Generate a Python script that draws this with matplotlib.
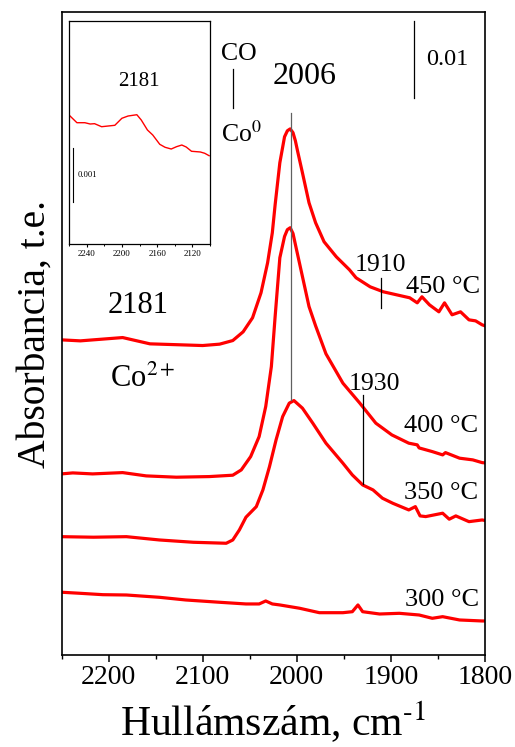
import matplotlib
matplotlib.use("Agg")
import matplotlib.pyplot as plt
from matplotlib.ticker import MultipleLocator, NullLocator
import numpy as np

plt.rcParams['font.family'] = ['Liberation Serif', 'DejaVu Serif']
plt.rcParams['mathtext.fontset'] = 'stix'

# Spectra: wavenumber (cm-1) and absorbance (mAbs) before vertical stacking
wn_300 = [2250, 2230, 2206, 2181, 2146, 2118, 2082, 2054, 2040, 2033, 2026, 2018, 1997, 1976,
          1951, 1941, 1935, 1930, 1912, 1891, 1870, 1856, 1845, 1827, 1803, 1800]
abs_300 = [4.19, 4.05, 3.87, 3.83, 3.53, 3.18, 2.88, 2.66, 2.66, 3.05, 2.66, 2.53, 2.10, 1.52,
           1.52, 1.65, 2.53, 1.65, 1.35, 1.44, 1.22, 0.79, 1.00, 0.57, 0.44, 0.44]

wn_350 = [2250, 2216, 2181, 2146, 2110, 2075, 2068, 2061, 2054, 2043, 2036, 2029, 2022, 2015,
          2008, 2003, 1994, 1983, 1969, 1951, 1941, 1930, 1919, 1909, 1898, 1881, 1874, 1869,
          1863, 1845, 1838, 1831, 1817, 1803, 1800]
abs_350 = [1.44, 1.37, 1.44, 1.01, 0.71, 0.58, 1.01, 2.32, 3.98, 5.36, 7.54, 10.58, 14.07, 17.11,
           18.86, 19.20, 18.21, 16.25, 13.64, 11.03, 9.50, 8.19, 7.54, 6.46, 5.80, 4.93, 5.36, 4.15,
           4.06, 4.50, 3.72, 4.15, 3.40, 3.62, 3.55]

wn_400 = [2250, 2238, 2217, 2185, 2160, 2128, 2093, 2068, 2059, 2049, 2040, 2033, 2027, 2023,
          2018, 2013, 2010, 2007, 2004, 2001, 1994, 1987, 1980, 1969, 1951, 1933, 1916, 1899,
          1881, 1872, 1870, 1856, 1845, 1842, 1827, 1813, 1803, 1800]
abs_400 = [0.63, 0.76, 0.63, 0.80, 0.37, 0.20, 0.28, 0.46, 1.15, 2.89, 5.50, 9.42, 14.64, 21.17,
           28.83, 31.61, 32.50, 32.75, 32.00, 30.30, 26.39, 22.47, 19.95, 16.30, 12.47, 9.86, 7.25, 5.72,
           4.64, 4.42, 4.02, 3.54, 3.11, 3.41, 2.68, 2.46, 2.10, 2.07]

wn_450 = [2250, 2230, 2185, 2156, 2100, 2082, 2068, 2057, 2047, 2038, 2031, 2026, 2023, 2018,
          2013, 2010, 2007, 2004, 2001.5, 1999, 1994, 1987, 1980, 1971, 1958, 1944, 1937, 1922,
          1908, 1894, 1880, 1872, 1867, 1859, 1849, 1843, 1835, 1826, 1817, 1810, 1803, 1800]
abs_450 = [2.12, 1.99, 2.42, 1.60, 1.38, 1.56, 2.03, 3.17, 5.00, 8.26, 12.18, 16.09, 19.75, 25.23,
           28.62, 29.40, 29.65, 29.15, 28.10, 26.67, 23.93, 20.01, 17.40, 14.92, 12.96, 11.26, 10.22, 9.04,
           8.39, 8.00, 7.61, 6.95, 7.74, 6.69, 5.78, 6.95, 5.39, 5.78, 4.73, 4.60, 4.08, 3.95]

temperatures = ['300 °C', '350 °C', '400 °C', '450 °C']
offsets = [4.0, 14.0, 23.0, 39.0]

# Enlarged 2181 cm-1 region of the 450 °C spectrum (mAbs)
wn_zoom = [2260, 2251, 2242, 2236, 2231, 2223, 2208, 2200, 2193, 2183, 2178, 2171, 2165, 2157,
           2151, 2144, 2138, 2132, 2127, 2121, 2111, 2106, 2101]
abs_zoom = [2.389, 2.246, 2.246, 2.222, 2.228, 2.172, 2.198, 2.328, 2.370, 2.394, 2.296, 2.111,
            2.019, 1.846, 1.791, 1.759, 1.802, 1.833, 1.796, 1.717, 1.704, 1.680, 1.635]

xticks_main = [2200, 2100, 2000, 1900, 1800]
xticks_zoom = [2240, 2200, 2160, 2120]

RED = '#ff0000'

fig = plt.figure(figsize=(5.15, 7.47), dpi=100)
W, H = 515, 747
ax = fig.add_axes([61.5 / W, (H - 655) / H, (485 - 61.5) / W, (655 - 12) / H])

curves = [(wn_300, abs_300), (wn_350, abs_350), (wn_400, abs_400), (wn_450, abs_450)]
for (wn, a), off in zip(curves, offsets):
    ax.plot(wn, np.asarray(a) + off, color=RED, lw=2.3, solid_joinstyle='round')

ax.set_xlim(2250, 1800)
ax.set_ylim(0, 83.9)
ax.set_xticks(xticks_main)
ax.xaxis.set_minor_locator(MultipleLocator(50))
ax.yaxis.set_major_locator(NullLocator())
ax.tick_params(axis='x', which='major', direction='out', length=5, width=1.1,
               labelsize=20, pad=2)
ax.tick_params(axis='x', which='minor', direction='out', length=2.6, width=1.0)
for s in ax.spines.values():
    s.set_linewidth(1.2)

ax.set_xlabel(r'Hullámszám, cm$^{\text{-}1}$', fontsize=30, labelpad=7)
ax.set_ylabel('Absorbancia, t.e.', fontsize=28.5, labelpad=6)

# Temperature labels
temp_pos = [(1806, 6.44), (1807, 20.37), (1807, 29.15), (1805.5, 47.22)]
for t, (x, y) in zip(temperatures, temp_pos):
    ax.text(x, y, t, ha='right', va='baseline', fontsize=19)

# Band markers
ax.plot([2006, 2006], [33.3, 70.76], color='#606060', lw=0.9)
ax.text(1992, 74.55, '2006', ha='center', va='baseline', fontsize=23)
ax.plot([1910, 1910], [45.30, 49.22], color='black', lw=0.9)
ax.text(1911, 50.17, '1910', ha='center', va='baseline', fontsize=18.5)
ax.plot([1930, 1930], [22.32, 33.94], color='black', lw=0.9)
ax.text(1917.5, 34.6, '1930', ha='center', va='baseline', fontsize=18.5)
ax.text(2168.6, 44.61, '2181', ha='center', va='baseline', fontsize=22)
ax.text(2198, 35.03, 'Co$^{2+}$', ha='left', va='baseline', fontsize=22)

# CO on Co0 label
ax.plot([2068, 2068], [71.41, 76.50], color='black', lw=0.9)
ax.text(2062, 77.68, 'CO', ha='center', va='baseline', fontsize=18.5)
ax.text(2081, 67.0, 'Co$^{0}$', ha='left', va='baseline', fontsize=18.5)

# Absorbance scale bar
ax.plot([1875, 1875], [72.68, 82.68], color='black', lw=0.9)
ax.text(1863, 77.02, '0.01', ha='left', va='baseline', fontsize=17.5)

# Inset with the 2181 cm-1 band
axi = fig.add_axes([69 / W, (H - 244) / H, (210 - 69) / W, (244 - 20.7) / H])
axi.plot(wn_zoom, abs_zoom, color=RED, lw=1.0)
axi.set_xlim(2260, 2100)
axi.set_ylim(0, 4.135)
axi.set_xticks(xticks_zoom)
axi.xaxis.set_minor_locator(MultipleLocator(20))
axi.yaxis.set_major_locator(NullLocator())
axi.tick_params(axis='x', which='major', direction='out', length=2.5, width=0.8,
                labelsize=6.5, pad=1.5)
axi.tick_params(axis='x', which='minor', direction='out', length=1.5, width=0.7)
for s in axi.spines.values():
    s.set_linewidth(0.9)
axi.plot([2255, 2255], [0.778, 1.778], color='black', lw=0.8)
axi.text(2250.6, 1.278, '0.001', ha='left', va='center', fontsize=6.2)
axi.text(2180.5, 2.926, '2181', ha='center', va='baseline', fontsize=15)

fig.savefig('out.png', dpi=100)
